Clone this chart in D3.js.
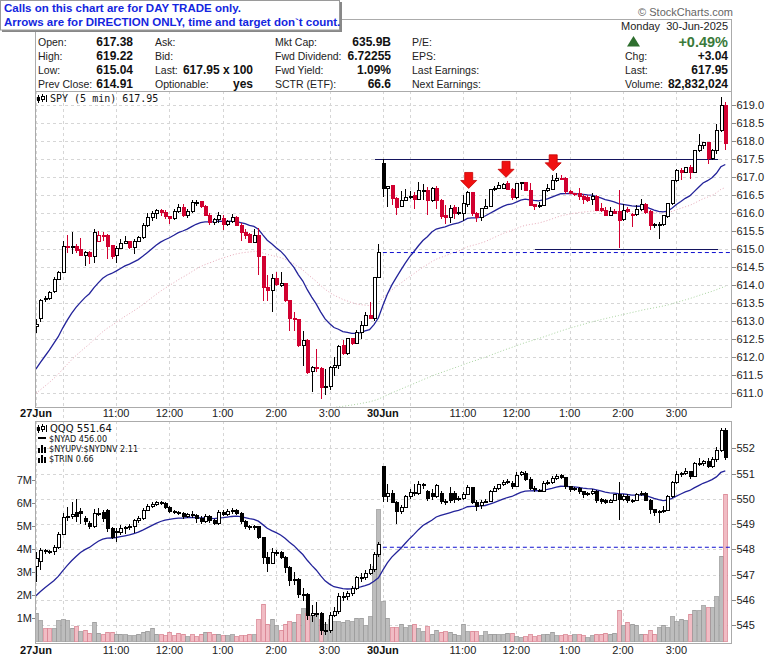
<!DOCTYPE html>
<html>
<head>
<meta charset="utf-8">
<script src="https://cdn.jsdelivr.net/npm/d3@7"></script>
<style>
  body { margin: 0; background: #fff; }
  svg text { font-family: "Liberation Sans", Arial, sans-serif; }
</style>
</head>
<body>
<script>
//SPY 5 min candles, 27Jun (bars 0-77) and 30Jun (bars 78-155)
var spyOpen = [612.85,613.07,613.60,613.63,613.82,614.17,614.35,615.09,615.05,615.07,615.00,614.83,614.90,614.80,615.23,615.39,615.39,615.10,614.83,615.02,
  615.17,615.22,615.05,615.23,615.32,615.67,615.88,616.00,616.07,616.02,615.90,615.85,616.04,616.17,615.93,616.05,616.30,616.32,616.18,615.95,
  615.74,615.82,615.85,615.70,615.77,615.88,615.67,615.48,615.42,615.20,615.39,614.80,613.95,613.85,614.18,614.00,614.04,613.58,613.07,613.05,
  612.33,612.47,611.60,611.73,611.70,611.17,611.20,611.73,611.77,612.33,612.10,612.51,612.38,612.70,612.88,613.16,613.09,614.23,
  617.38,616.68,616.77,616.42,616.19,616.36,616.44,616.50,616.38,616.60,616.63,616.36,616.70,616.36,615.93,615.89,616.17,615.99,616.00,616.24,
  616.57,615.99,615.88,616.12,616.20,616.66,616.70,616.70,616.83,616.67,616.45,616.82,616.85,616.64,616.25,616.19,616.23,616.62,616.67,616.92,
  616.98,616.97,616.60,616.56,616.55,616.47,616.44,616.37,616.46,616.12,616.08,615.95,616.05,616.05,615.83,616.10,615.96,615.97,616.10,616.24,
  616.04,615.70,615.68,615.68,615.92,616.26,616.90,617.20,617.13,617.27,617.13,617.74,617.87,617.96,617.52,617.75,618.31,619.00];
var spyHigh = [613.06,613.63,613.70,613.84,614.22,614.40,615.23,615.39,615.48,615.14,615.32,614.95,614.96,615.56,615.51,615.48,615.42,615.11,615.09,615.28,
  615.37,615.23,615.30,615.37,615.74,616.02,616.07,616.11,616.11,616.09,615.93,616.11,616.25,616.25,616.11,616.37,616.37,616.34,616.22,616.00,
  615.88,616.04,615.94,615.82,615.97,615.93,615.72,615.56,615.45,615.56,615.58,614.82,614.30,614.32,614.37,614.38,614.05,613.60,613.26,613.07,
  612.72,612.50,611.77,612.24,611.72,611.68,611.77,612.00,612.33,612.47,612.51,612.53,612.75,613.00,613.26,613.53,614.23,615.15,
  617.52,616.77,616.77,616.45,616.63,616.68,616.63,616.60,616.87,616.82,616.72,616.73,616.77,616.39,616.22,616.24,616.22,616.17,616.50,616.61,
  616.57,616.03,616.13,616.40,616.68,616.77,616.87,616.83,616.90,616.70,616.85,616.87,616.87,616.83,616.27,616.32,616.64,616.81,617.06,617.11,
  617.06,617.02,616.65,616.56,616.71,616.53,616.50,616.57,616.52,616.30,616.17,616.17,616.12,616.64,616.27,616.17,616.00,616.23,616.41,616.28,
  616.09,615.72,615.76,615.95,616.28,616.92,617.22,617.25,617.29,617.34,617.77,618.21,617.98,617.98,617.80,618.49,619.22,619.10];
var spyLow = [612.68,612.98,613.55,613.59,613.80,614.15,614.33,614.91,614.86,614.91,614.82,614.54,614.58,614.63,615.20,615.23,614.74,614.72,614.61,615.00,
  615.14,615.02,614.86,615.20,615.28,615.63,615.79,615.83,615.93,615.83,615.69,615.81,616.00,615.91,615.88,616.02,616.20,616.16,615.93,615.67,
  615.67,615.74,615.54,615.65,615.74,615.65,615.23,615.30,615.18,615.18,614.30,613.56,613.57,613.27,613.98,613.96,613.55,612.72,612.72,612.30,
  611.77,611.55,611.03,611.60,610.85,610.94,611.10,611.48,611.68,612.07,612.07,612.33,612.38,612.51,612.88,613.09,613.00,614.20,
  616.45,616.17,616.22,615.96,616.17,616.33,616.40,616.13,616.36,616.36,615.94,616.31,616.13,615.85,615.71,615.74,615.85,615.94,615.80,616.17,
  615.92,615.76,615.80,616.12,616.17,616.61,616.68,616.67,616.65,616.37,616.41,616.65,616.63,616.23,616.09,616.14,616.20,616.60,616.67,616.88,
  616.93,616.55,616.53,616.48,616.37,616.27,616.32,616.23,616.07,616.04,615.92,615.94,615.98,615.04,615.78,616.00,615.63,615.92,616.06,615.97,
  615.55,615.58,615.30,615.65,615.86,616.23,616.87,616.92,617.12,616.94,617.12,617.71,617.80,617.36,617.48,617.64,618.27,617.77];
var spyClose = [612.90,613.58,613.64,613.80,614.17,614.35,615.09,615.04,615.09,614.98,614.84,614.90,614.80,615.48,615.39,615.38,615.09,614.80,615.02,615.17,
  615.23,615.05,615.23,615.32,615.67,615.88,616.00,616.07,616.02,615.90,615.85,616.05,616.16,615.93,616.05,616.30,616.31,616.18,615.95,615.74,
  615.82,615.95,615.69,615.76,615.88,615.67,615.48,615.39,615.20,615.39,614.80,613.93,613.85,614.18,614.02,614.04,613.58,613.07,613.05,612.33,
  612.47,611.59,611.73,611.68,611.17,611.20,611.73,611.77,612.31,612.10,612.51,612.38,612.70,612.88,613.16,613.09,614.23,614.91,
  616.68,616.75,616.40,616.17,616.36,616.45,616.47,616.38,616.62,616.63,616.36,616.70,616.36,615.92,615.89,616.14,616.00,616.02,616.26,616.57,
  615.99,615.87,616.12,616.20,616.66,616.70,616.78,616.80,616.67,616.44,616.83,616.86,616.64,616.23,616.18,616.23,616.62,616.69,616.92,616.97,
  616.95,616.60,616.56,616.55,616.47,616.37,616.35,616.46,616.09,616.07,615.95,616.05,616.00,615.79,616.09,616.04,615.98,616.10,616.24,616.02,
  615.67,615.67,615.70,615.93,616.26,616.90,617.20,617.12,617.27,617.12,617.74,617.87,617.96,617.52,617.75,618.31,619.00,617.95];

//QQQ 5 min candles and volume (millions), same bars
var qqqOpen = [547.31,547.51,547.95,547.90,547.90,548.06,548.59,549.25,549.30,549.45,549.49,549.20,549.03,548.89,549.38,549.46,549.55,548.83,548.72,548.67,
  548.83,548.85,548.89,549.12,549.20,549.55,549.69,549.78,549.86,549.82,549.65,549.49,549.46,549.42,549.29,549.38,549.33,549.22,549.09,549.29,
  549.12,549.03,549.46,549.38,549.55,549.55,549.42,549.09,548.89,548.85,548.89,548.46,547.67,547.44,547.88,547.88,547.67,547.27,546.78,546.82,
  546.21,546.21,545.39,545.46,545.46,544.80,544.80,545.39,545.53,546.12,546.12,546.25,546.45,546.87,546.87,547.05,547.18,547.80,
  551.27,550.10,550.20,549.86,549.49,549.65,550.08,550.25,550.20,550.55,550.28,550.20,550.10,550.20,549.91,550.20,550.20,549.99,550.00,550.18,
  550.44,549.86,549.75,549.86,549.91,550.30,550.41,550.55,550.65,550.62,550.48,550.98,551.00,550.78,550.40,550.32,550.30,550.60,550.65,550.80,
  550.92,550.84,550.48,550.35,550.40,550.28,550.15,550.20,550.30,549.98,549.92,549.86,549.95,550.15,549.99,550.10,549.92,549.95,550.15,550.20,
  549.95,549.56,549.46,549.50,549.55,550.08,550.65,550.97,551.00,551.07,550.87,551.40,551.40,551.48,551.27,551.54,551.90,552.72];
var qqqHigh = [547.90,548.06,548.02,547.98,548.17,548.70,549.42,549.69,549.88,549.99,549.62,549.30,549.12,549.60,549.62,549.55,549.60,548.90,548.85,548.96,
  548.92,549.00,549.20,549.30,549.62,549.78,549.86,549.92,549.90,549.86,549.70,549.55,549.52,549.46,549.45,549.50,549.40,549.30,549.38,549.35,
  549.18,549.55,549.55,549.58,549.62,549.60,549.46,549.15,548.98,548.98,548.92,548.50,547.90,548.05,547.98,547.95,547.75,547.32,547.10,546.85,
  546.45,546.25,545.80,545.90,545.50,545.10,545.50,545.70,546.25,546.30,546.35,546.55,546.95,547.05,547.18,547.40,547.90,548.30,
  551.30,550.60,550.35,549.90,549.75,550.15,550.40,550.60,550.70,550.62,550.35,550.40,550.60,550.30,550.00,550.45,550.30,550.10,550.25,550.55,
  550.48,549.95,549.95,550.00,550.35,550.50,550.60,550.75,550.80,550.70,551.05,551.12,551.10,550.85,550.50,550.40,550.70,550.75,550.90,551.00,
  550.98,550.88,550.52,550.45,550.45,550.32,550.25,550.38,550.35,550.05,549.98,550.00,550.20,550.65,550.20,550.20,550.00,550.22,550.30,550.25,
  550.00,549.60,549.55,549.70,550.15,550.70,551.10,551.08,551.20,551.12,551.45,551.62,551.55,551.60,551.65,552.05,552.82,552.80];
var qqqLow = [546.71,547.18,547.82,547.80,547.77,548.00,548.56,549.12,549.20,549.10,549.00,548.98,548.80,548.85,549.30,549.10,548.70,548.40,548.30,548.55,
  548.60,548.75,548.65,549.05,549.15,549.50,549.62,549.70,549.75,549.60,549.42,549.38,549.35,549.20,549.25,549.25,549.05,549.00,549.05,549.05,
  548.95,548.98,549.30,549.30,549.40,549.35,549.00,548.80,548.75,548.78,548.40,547.40,547.10,547.40,547.75,547.60,547.05,546.55,546.60,546.05,
  545.95,545.20,545.10,545.30,544.62,544.60,544.70,545.30,545.45,545.95,546.00,546.15,546.40,546.70,546.80,547.00,547.10,547.70,
  549.88,549.88,549.82,548.99,549.39,549.62,550.00,550.10,550.15,550.40,549.90,549.95,550.05,549.80,549.75,549.85,549.85,549.90,549.95,550.15,
  549.80,549.50,549.60,549.82,549.88,550.25,550.35,550.50,550.60,550.40,550.45,550.90,550.70,550.35,550.25,550.25,550.28,550.55,550.60,550.75,
  550.80,550.40,550.28,550.30,550.20,550.05,550.10,550.15,549.85,549.80,549.80,549.82,549.90,549.16,549.90,549.85,549.85,549.90,550.10,549.90,
  549.40,549.30,549.03,549.45,549.50,550.05,550.60,550.85,550.95,550.80,550.85,551.30,551.30,551.20,551.20,551.45,551.85,551.55];
var qqqClose = [547.64,547.97,547.90,547.88,548.06,548.59,549.25,549.29,549.38,549.29,549.40,549.09,548.89,549.42,549.42,549.22,548.83,548.46,548.67,548.83,
  548.85,548.89,549.12,549.20,549.55,549.69,549.78,549.86,549.82,549.65,549.49,549.46,549.42,549.29,549.38,549.33,549.22,549.09,549.29,549.12,
  549.03,549.46,549.38,549.49,549.55,549.42,549.09,548.89,548.85,548.89,548.46,547.67,547.44,547.88,547.88,547.67,547.27,546.78,546.82,546.21,
  546.21,545.39,545.46,545.46,544.80,544.80,545.39,545.53,546.12,546.12,546.25,546.45,546.87,546.87,547.05,547.18,547.80,548.17,
  550.08,550.20,549.86,549.49,549.65,550.08,550.25,550.20,550.55,550.55,550.02,550.10,550.52,549.91,549.90,549.95,549.99,550.00,550.18,550.44,
  549.86,549.69,549.86,549.91,550.30,550.41,550.55,550.65,550.68,550.48,550.94,551.05,550.78,550.42,550.35,550.30,550.60,550.65,550.80,550.90,
  550.84,550.48,550.35,550.40,550.28,550.15,550.20,550.30,549.95,549.90,549.86,549.95,550.15,549.99,550.10,549.92,549.95,550.15,550.20,549.95,
  549.56,549.46,549.50,549.55,550.08,550.65,550.97,551.00,551.07,550.87,551.40,551.40,551.48,551.27,551.54,551.90,552.72,551.64];
var qqqVolume = [1.22,0.89,0.54,0.54,0.54,0.89,0.93,0.89,0.57,0.64,0.42,0.49,0.35,0.83,0.35,0.28,0.39,0.39,0.31,0.31,
  0.28,0.25,0.25,0.31,0.39,0.45,0.57,0.31,0.28,0.25,0.39,0.25,0.35,0.31,0.21,0.28,0.21,0.31,0.39,0.39,
  0.31,0.31,0.25,0.25,0.28,0.21,0.25,0.25,0.31,0.28,0.93,1.61,0.74,0.97,0.68,0.49,0.74,0.86,0.83,1.15,
  1.41,1.22,1.12,1.22,0.97,0.74,0.97,0.86,0.86,0.83,0.89,0.86,1.00,1.00,0.68,1.07,3.24,5.70,
  1.72,1.00,0.60,0.60,0.74,0.60,0.68,0.74,0.54,0.42,0.64,0.31,0.49,0.39,0.42,0.39,0.31,0.25,0.74,0.42,
  0.45,0.42,0.25,0.42,0.31,0.31,0.28,0.28,0.35,0.35,0.21,0.16,0.21,0.28,0.21,0.25,0.28,0.31,0.39,0.25,
  0.25,0.28,0.25,0.28,0.28,0.25,0.16,0.25,0.31,0.31,0.35,0.31,0.35,1.36,0.68,0.83,0.74,0.71,0.31,0.31,
  0.49,0.31,0.60,0.71,0.60,1.07,0.86,0.97,0.89,1.17,1.36,1.32,1.55,1.46,1.46,1.94,3.70,6.39];

var spyEma20Start = 611.55;
var spyEma50Start = 610.92;
var spyEma200Start = 606.8;
var qqqEma20Start = 546.0;

//Time axis: bar index of gridlines and labels
var hourBars = [6, 18, 30, 42, 54, 66, 84, 96, 108, 120, 132, 144];
var hourNames = ["", "11:00", "12:00", "1:00", "2:00", "3:00", "", "11:00", "12:00", "1:00", "2:00", "3:00"];
var dayBars = [0, 78];
var dayNames = ["27Jun", "30Jun"];

//Axis ticks
var spyTicks = [611.0, 611.5, 612.0, 612.5, 613.0, 613.5, 614.0, 614.5, 615.0, 615.5, 616.0, 616.5, 617.0, 617.5, 618.0, 618.5, 619.0];
var qqqTicks = [545, 546, 547, 548, 549, 550, 551, 552];
var volTicks = [1, 2, 3, 4, 5, 6, 7];

//Annotations: trend lines [startBar, endBar, price], arrows [bar, tip price], previous closes
var trendLines = [[76.2, 153.4, 617.5], [112.2, 153.4, 615.0]];
var arrowMarks = [[97.3, 616.69], [105.7, 617.0], [116.3, 617.18]];
var spyPrevClose = 614.91;
var qqqPrevClose = 548.08;

var red = "#d10030";
var navy = "#23239a";
var gridColor = "#d6d6d6";
var borderColor = "#ababab";

var svg = d3.select("body")
            .append("svg")
            .attr("width", 780)
            .attr("height", 659);

var panelLeft = 35, panelRight = 731.5;
var spyTop = 91, spyBottom = 407;
var qqqTop = 421, qqqBottom = 643;

//Scales
var xScale = d3.scaleLinear().domain([0, 155]).range([36, 725.3]);
var spyY = d3.scaleLinear().domain([611, 619]).range([393.3, 105.3]);
var qqqY = d3.scaleLinear().domain([545, 552]).range([625, 448.3]);
var volY = d3.scaleLinear().domain([0, 7]).range([641.4, 480]);

function ema(values, period, start) {
    var k = 2 / (period + 1), prev = start;
    return values.map(function(v) {
        prev = prev + k * (v - prev);
        return prev;
    });
}

var defs = svg.append("defs");
defs.append("clipPath").attr("id", "clipSpy")
    .append("rect").attr("x", panelLeft).attr("y", spyTop).attr("width", panelRight - panelLeft).attr("height", spyBottom - spyTop);
defs.append("clipPath").attr("id", "clipQqq")
    .append("rect").attr("x", panelLeft).attr("y", qqqTop).attr("width", panelRight - panelLeft).attr("height", qqqBottom - qqqTop);

//Grid for a panel
function drawGrid(top, bottom, yTicks, yScale) {
    var g = svg.append("g").attr("shape-rendering", "crispEdges");
    g.selectAll(".vgrid")
        .data(hourBars.concat(dayBars))
        .enter()
        .append("line")
        .attr("x1", d => Math.round(xScale(d)) + 0.5)
        .attr("x2", d => Math.round(xScale(d)) + 0.5)
        .attr("y1", top)
        .attr("y2", bottom)
        .attr("stroke", gridColor)
        .attr("stroke-dasharray", "3,3");
    g.selectAll(".hgrid")
        .data(yTicks)
        .enter()
        .append("line")
        .attr("x1", panelLeft)
        .attr("x2", panelRight)
        .attr("y1", d => Math.round(yScale(d)) + 0.5)
        .attr("y2", d => Math.round(yScale(d)) + 0.5)
        .attr("stroke", gridColor)
        .attr("stroke-dasharray", "3,3");
}

//vertical grid runs through the label strip between the two panels
drawGrid(spyTop, qqqTop, spyTicks, spyY);
drawGrid(qqqTop, qqqBottom, qqqTicks, qqqY);

//Candles
function drawCandles(group, o, h, l, c, yScale, colorFn) {
    var idx = d3.range(c.length);
    group.selectAll(".wick")
        .data(idx)
        .enter()
        .append("line")
        .attr("x1", i => Math.round(xScale(i)) + 0.5)
        .attr("x2", i => Math.round(xScale(i)) + 0.5)
        .attr("y1", i => yScale(h[i]))
        .attr("y2", i => yScale(l[i]))
        .attr("stroke", i => colorFn(i))
        .attr("stroke-width", 1);
    group.selectAll(".body")
        .data(idx)
        .enter()
        .append("rect")
        .attr("x", i => Math.round(xScale(i)) - 1)
        .attr("y", i => Math.min(yScale(o[i]), yScale(c[i])))
        .attr("width", 3)
        .attr("height", i => Math.max(1, Math.abs(yScale(o[i]) - yScale(c[i]))))
        .attr("fill", i => c[i] < o[i] ? colorFn(i) : "#fff")
        .attr("stroke", i => colorFn(i))
        .attr("stroke-width", 1);
}

//SPY panel
var spyG = svg.append("g").attr("clip-path", "url(#clipSpy)");

var lineGen = function(yScale) {
    return d3.line().x((d, i) => xScale(i)).y(d => yScale(d));
};

spyG.append("path")
    .datum(ema(spyClose, 200, spyEma200Start))
    .attr("d", lineGen(spyY))
    .attr("fill", "none")
    .attr("stroke", "#a9d3a0")
    .attr("stroke-width", 1)
    .attr("stroke-dasharray", "1,2");

spyG.append("path")
    .datum(ema(spyClose, 50, spyEma50Start))
    .attr("d", lineGen(spyY))
    .attr("fill", "none")
    .attr("stroke", "#e6a9b8")
    .attr("stroke-width", 1)
    .attr("stroke-dasharray", "1,2");

spyG.append("path")
    .datum(ema(spyClose, 20, spyEma20Start))
    .attr("d", lineGen(spyY))
    .attr("fill", "none")
    .attr("stroke", navy)
    .attr("stroke-width", 1.3);

//previous close and trend lines
spyG.append("line")
    .attr("x1", xScale(78))
    .attr("x2", panelRight)
    .attr("y1", spyY(spyPrevClose))
    .attr("y2", spyY(spyPrevClose))
    .attr("stroke", "#1010d0")
    .attr("stroke-dasharray", "4,3");

spyG.selectAll(".trend")
    .data(trendLines)
    .enter()
    .append("line")
    .attr("x1", d => xScale(d[0]))
    .attr("x2", d => xScale(d[1]))
    .attr("y1", d => Math.round(spyY(d[2])) + 0.5)
    .attr("y2", d => Math.round(spyY(d[2])) + 0.5)
    .attr("stroke", "#14145e")
    .attr("stroke-width", 1.2);

var spyCandles = spyG.append("g").attr("shape-rendering", "crispEdges");
drawCandles(spyCandles, spyOpen, spyHigh, spyLow, spyClose, spyY, function(i) {
    var prev = i === 0 ? spyOpen[0] : spyClose[i - 1];
    return spyClose[i] >= prev ? "#000" : red;
});

//direction arrows
spyG.selectAll(".arrow")
    .data(arrowMarks)
    .enter()
    .append("path")
    .attr("d", function(d) {
        var x = xScale(d[0]), y = spyY(d[1]);
        return "M" + (x - 4) + "," + (y - 16) + "H" + (x + 4) + "V" + (y - 8) +
               "H" + (x + 8) + "L" + x + "," + y + "L" + (x - 8) + "," + (y - 8) + "H" + (x - 4) + "Z";
    })
    .attr("fill", "#f01010")
    .attr("stroke", "#c80000")
    .attr("stroke-width", 0.8);

//QQQ panel
var qqqG = svg.append("g").attr("clip-path", "url(#clipQqq)");

qqqG.append("g")
    .attr("shape-rendering", "crispEdges")
    .selectAll("rect")
    .data(qqqVolume)
    .enter()
    .append("rect")
    .attr("x", (d, i) => Math.round(xScale(i)) - 1.5)
    .attr("y", d => volY(d))
    .attr("width", 3.6)
    .attr("height", d => volY(0) - volY(d))
    .attr("fill", (d, i) => i > 0 && qqqClose[i] < qqqClose[i - 1] ? "#f1bcc4" : "#bdbdbd")
    .attr("stroke", (d, i) => i > 0 && qqqClose[i] < qqqClose[i - 1] ? "#d98592" : "#9a9a9a")
    .attr("stroke-width", 0.8);

qqqG.append("path")
    .datum(ema(qqqClose, 20, qqqEma20Start))
    .attr("d", lineGen(qqqY))
    .attr("fill", "none")
    .attr("stroke", navy)
    .attr("stroke-width", 1.3);

qqqG.append("line")
    .attr("x1", xScale(78))
    .attr("x2", panelRight)
    .attr("y1", qqqY(qqqPrevClose))
    .attr("y2", qqqY(qqqPrevClose))
    .attr("stroke", "#1010d0")
    .attr("stroke-dasharray", "4,3");

var qqqCandles = qqqG.append("g").attr("shape-rendering", "crispEdges");
drawCandles(qqqCandles, qqqOpen, qqqHigh, qqqLow, qqqClose, qqqY, function() { return "#000"; });

//Panel borders
[[spyTop, spyBottom], [qqqTop, qqqBottom]].forEach(function(p) {
    svg.append("rect")
        .attr("x", panelLeft + 0.5)
        .attr("y", p[0] + 0.5)
        .attr("width", panelRight - panelLeft - 0.5)
        .attr("height", p[1] - p[0])
        .attr("fill", "none")
        .attr("stroke", borderColor)
        .attr("shape-rendering", "crispEdges");
});

//Right axes
function rightAxis(ticks, yScale, fmt) {
    var g = svg.append("g");
    g.selectAll("line")
        .data(ticks)
        .enter()
        .append("line")
        .attr("x1", panelRight)
        .attr("x2", panelRight + 4)
        .attr("y1", d => Math.round(yScale(d)) + 0.5)
        .attr("y2", d => Math.round(yScale(d)) + 0.5)
        .attr("stroke", "#888")
        .attr("shape-rendering", "crispEdges");
    g.selectAll("text")
        .data(ticks)
        .enter()
        .append("text")
        .attr("x", panelRight + 5)
        .attr("y", d => yScale(d) + 4)
        .attr("font-size", "11px")
        .attr("fill", "#222")
        .text(fmt);
}
rightAxis(spyTicks, spyY, d3.format(".1f"));
rightAxis(qqqTicks, qqqY, d3.format("d"));

//Left volume axis
var volAxis = svg.append("g");
volAxis.selectAll("line")
    .data(volTicks)
    .enter()
    .append("line")
    .attr("x1", panelLeft - 3)
    .attr("x2", panelLeft)
    .attr("y1", d => Math.round(volY(d)) + 0.5)
    .attr("y2", d => Math.round(volY(d)) + 0.5)
    .attr("stroke", "#888");
volAxis.selectAll("text")
    .data(volTicks)
    .enter()
    .append("text")
    .attr("x", panelLeft - 3)
    .attr("y", d => volY(d) + 4)
    .attr("text-anchor", "end")
    .attr("font-size", "11px")
    .attr("fill", "#222")
    .text(d => d + "M");

//Time labels under each panel
[spyBottom + 10, qqqBottom + 11].forEach(function(yy) {
    var g = svg.append("g");
    g.selectAll(".hour")
        .data(hourBars.map((b, i) => [b, hourNames[i]]).filter(d => d[1] !== ""))
        .enter()
        .append("text")
        .attr("x", d => xScale(d[0]))
        .attr("y", yy)
        .attr("text-anchor", "middle")
        .attr("font-size", "11px")
        .attr("fill", "#222")
        .text(d => d[1]);
    g.selectAll(".day")
        .data(dayBars.map((b, i) => [b, dayNames[i]]))
        .enter()
        .append("text")
        .attr("x", d => xScale(d[0]))
        .attr("y", yy)
        .attr("text-anchor", "middle")
        .attr("font-size", "11px")
        .attr("font-weight", "bold")
        .attr("fill", "#111")
        .text(d => d[1]);
});

//Legend icons and text
function candleIcon(x, y) {
    var g = svg.append("g").attr("fill", "#000").attr("shape-rendering", "crispEdges");
    g.append("rect").attr("x", x).attr("y", y - 7).attr("width", 1).attr("height", 8);
    g.append("rect").attr("x", x - 1).attr("y", y - 5).attr("width", 3).attr("height", 4);
    g.append("rect").attr("x", x + 4).attr("y", y - 8).attr("width", 1).attr("height", 8);
    g.append("rect").attr("x", x + 3).attr("y", y - 6).attr("width", 3).attr("height", 3).attr("fill", "#fff").attr("stroke", "#000");
    g.append("rect").attr("x", x + 8).attr("y", y - 7).attr("width", 1).attr("height", 7);
}
function barIcon(x, y) {
    var g = svg.append("g").attr("fill", "#000").attr("shape-rendering", "crispEdges");
    g.append("rect").attr("x", x).attr("y", y - 4).attr("width", 2).attr("height", 5);
    g.append("rect").attr("x", x + 3).attr("y", y - 7).attr("width", 2).attr("height", 8);
    g.append("rect").attr("x", x + 6).attr("y", y - 5).attr("width", 2).attr("height", 6);
}

candleIcon(38, 102);
svg.append("text").attr("x", 50).attr("y", 102)
    .style("font-family", "'DejaVu Sans Mono', monospace").attr("font-size", "10px").attr("fill", "#111")
    .text("SPY (5 min) 617.95");

candleIcon(38, 432);
svg.append("text").attr("x", 50).attr("y", 432)
    .style("font-family", "'DejaVu Sans', sans-serif").attr("font-size", "10px").attr("fill", "#111")
    .text("QQQ 551.64");
svg.append("rect").attr("x", 38).attr("y", 437).attr("width", 8).attr("height", 2).attr("fill", "#000");
svg.append("text").attr("x", 49).attr("y", 442)
    .style("font-family", "'DejaVu Sans Condensed', 'DejaVu Sans', sans-serif").attr("font-size", "9px").attr("fill", "#111")
    .text("$NYAD 456.00");
barIcon(38, 452);
svg.append("text").attr("x", 49).attr("y", 452)
    .style("font-family", "'DejaVu Sans Condensed', 'DejaVu Sans', sans-serif").attr("font-size", "9px").attr("fill", "#111")
    .text("$NYUPV:$NYDNV 2.11");
barIcon(38, 462);
svg.append("text").attr("x", 49).attr("y", 462)
    .style("font-family", "'DejaVu Sans Condensed', 'DejaVu Sans', sans-serif").attr("font-size", "9px").attr("fill", "#111")
    .text("$TRIN 0.66");

//Header table
svg.append("rect")
    .attr("x", panelLeft + 0.5)
    .attr("y", 19.5)
    .attr("width", panelRight - panelLeft - 0.5)
    .attr("height", spyTop - 19.5)
    .attr("fill", "none")
    .attr("stroke", borderColor)
    .attr("shape-rendering", "crispEdges");

var rowY = [45.5, 59.5, 73.5, 87.5];
var headerCols = [
    {x: 38, right: 133, labels: ["Open:", "High:", "Low:", "Prev Close:"], values: ["617.38", "619.22", "615.04", "614.91"]},
    {x: 155, right: 253, labels: ["Ask:", "Bid:", "Last:", "Optionable:"], values: ["", "", "617.95 x 100", "yes"]},
    {x: 275, right: 391, labels: ["Mkt Cap:", "Fwd Dividend:", "Fwd Yield:", "SCTR (ETF):"], values: ["635.9B", "6.72255", "1.09%", "66.6"]},
    {x: 412, right: 0, labels: ["P/E:", "EPS:", "Last Earnings:", "Next Earnings:"], values: ["", "", "", ""]},
    {x: 625, right: 728, labels: ["", "Chg:", "Last:", "Volume:"], values: ["", "+3.04", "617.95", "82,832,024"]}
];
headerCols.forEach(function(col) {
    col.labels.forEach(function(lab, r) {
        svg.append("text").attr("x", col.x).attr("y", rowY[r])
            .attr("font-size", "10.5px").attr("fill", "#222").text(lab);
        if (col.values[r] !== "") {
            svg.append("text").attr("x", col.right).attr("y", rowY[r])
                .attr("text-anchor", "end").attr("font-size", "12px").attr("font-weight", "bold")
                .attr("fill", "#111").text(col.values[r]);
        }
    });
});

svg.append("text").attr("x", 728).attr("y", 30)
    .attr("text-anchor", "end").attr("font-size", "11px").attr("fill", "#222")
    .attr("xml:space", "preserve")
    .text("Monday  30-Jun-2025");
svg.append("path")
    .attr("d", "M633.5,36 L640,46.5 L627,46.5 Z")
    .attr("fill", "#2e6e2e");
svg.append("text").attr("x", 728).attr("y", 46.5)
    .attr("text-anchor", "end").attr("font-size", "14.5px").attr("font-weight", "bold")
    .attr("fill", "#3a7a3a").text("+0.49%");

svg.append("text").attr("x", 733).attr("y", 15.5)
    .attr("text-anchor", "end").attr("font-size", "11px").attr("fill", "#666")
    .text("\u00a9 StockCharts.com");

//Note box in the top left corner
svg.append("rect").attr("x", 2).attr("y", 2).attr("width", 340).attr("height", 30).attr("fill", "#888");
svg.append("rect")
    .attr("x", 0.5).attr("y", 0.5).attr("width", 339).attr("height", 29.5)
    .attr("fill", "#fff").attr("stroke", "#9a9a9a");
svg.append("text").attr("x", 4).attr("y", 12)
    .attr("font-size", "11.5px").attr("font-weight", "bold").attr("fill", "#1426e0")
    .text("Calls on this chart are for DAY TRADE only.");
svg.append("text").attr("x", 4).attr("y", 25.5)
    .attr("font-size", "11.5px").attr("font-weight", "bold").attr("fill", "#1426e0")
    .text("Arrows are for DIRECTION ONLY, time and target don`t count.");
</script>
</body>
</html>
